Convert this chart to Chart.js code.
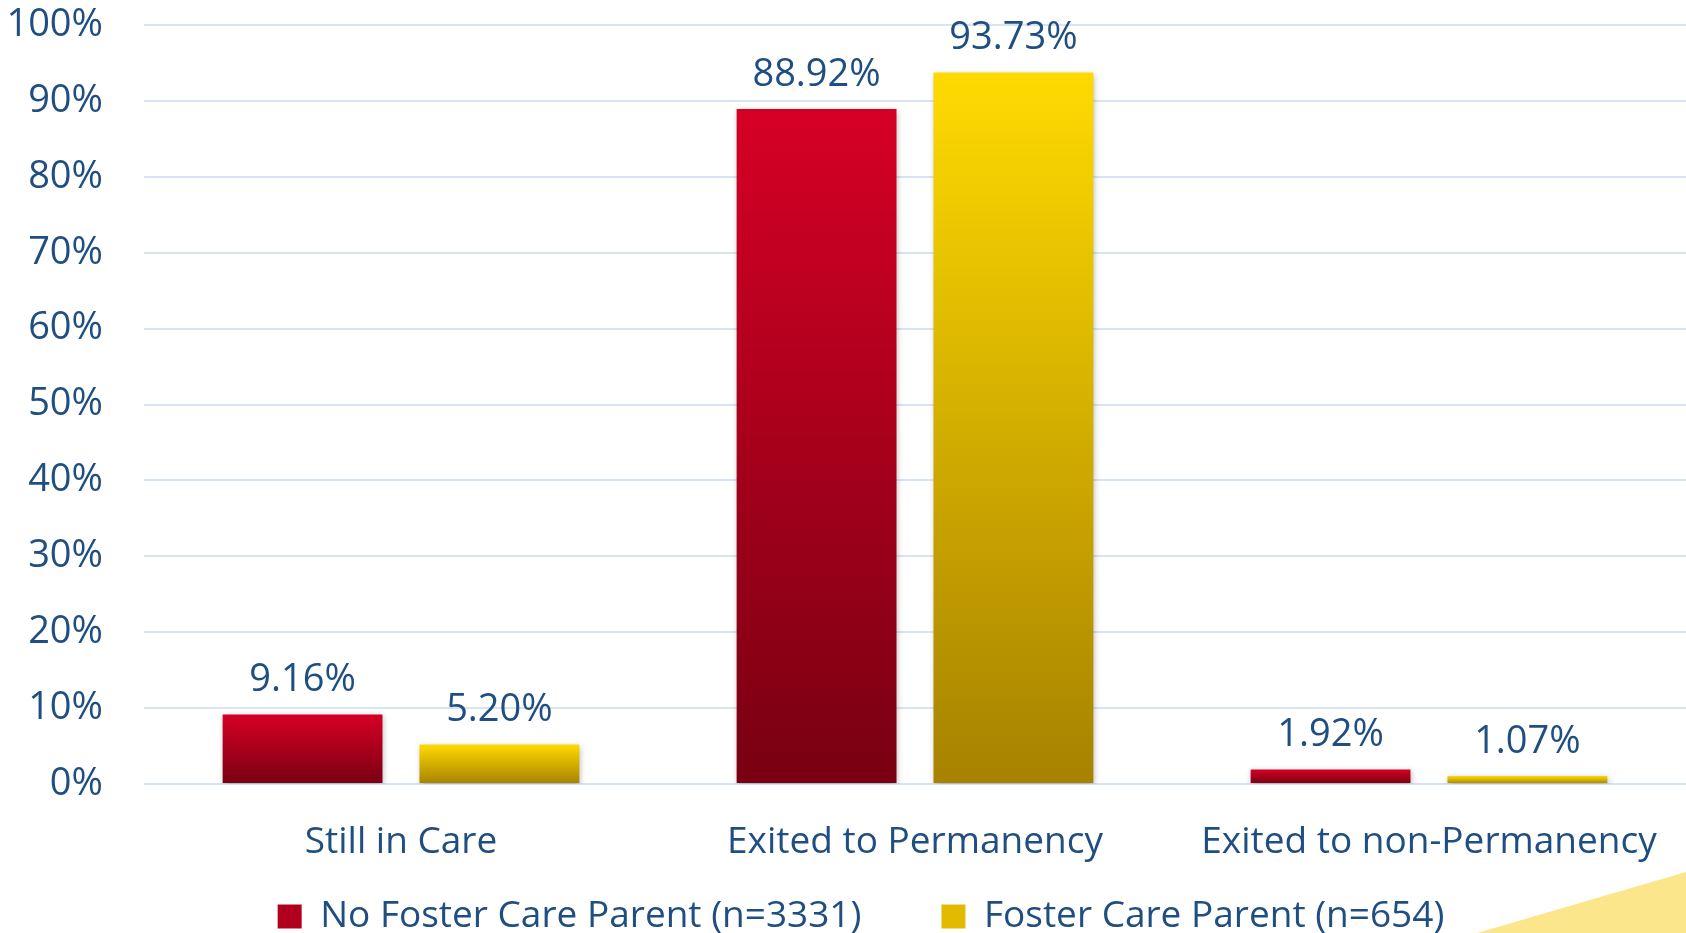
<!DOCTYPE html>
<html>
<head>
<meta charset="utf-8">
<script src="https://cdn.jsdelivr.net/npm/chart.js@4/dist/chart.umd.min.js"></script>
<style>
  html, body { margin:0; padding:0; background:#fff; overflow:hidden; }
  #wrap { position:relative; width:1686px; height:933px; }
  #deco { position:absolute; left:0; top:0; width:1686px; height:933px;
          background:#fce68c; clip-path:polygon(1477px 933px, 1686px 872px, 1686px 933px); }
  canvas { position:absolute; left:0; top:0; }
</style>
</head>
<body>
<div id="wrap">
  <div id="deco"></div>
  <canvas id="grafico" width="1686" height="933"></canvas>
</div>
<script>
const categorias = ['Still in Care', 'Exited to Permanency', 'Exited to non-Permanency'];
const noFoster   = [9.16, 88.92, 1.92];
const foster     = [5.20, 93.73, 1.07];
const serieNombres = ['No Foster Care Parent (n=3331)', 'Foster Care Parent (n=654)'];
const ticksY = [0, 10, 20, 30, 40, 50, 60, 70, 80, 90, 100];

const azul = '#1f4e82';
const fuente = "'Open Sans', sans-serif";

// gradiente vertical por barra (arriba brillante, abajo oscuro)
function gradBarra(arriba, abajo, plano){
  return function(ctx){
    const chart = ctx.chart;
    if(!chart.chartArea || !chart.scales.y || ctx.type !== 'data') return plano;
    const y = chart.scales.y;
    const top = y.getPixelForValue(ctx.raw);
    const base = y.getPixelForValue(0);
    if(!isFinite(top) || !isFinite(base) || base - top < 1) return plano;
    const g = chart.ctx.createLinearGradient(0, top, 0, base);
    g.addColorStop(0, arriba);
    g.addColorStop(1, abajo);
    return g;
  };
}

// etiquetas encima de las barras
const pluginEtiquetas = {
  id: 'etiquetas',
  afterDatasetsDraw(chart){
    const ctx = chart.ctx;
    ctx.save();
    ctx.font = '38px ' + fuente;
    ctx.fillStyle = azul;
    ctx.textAlign = 'center';
    ctx.textBaseline = 'middle';
    chart.data.datasets.forEach(function(ds, i){
      chart.getDatasetMeta(i).data.forEach(function(bar, j){
        ctx.fillText(ds.data[j].toFixed(2) + '%', bar.x, bar.y - 34);
      });
    });
    ctx.restore();
  }
};

// sombra suave de las barras
const pluginSombra = {
  id: 'sombra',
  beforeDatasetsDraw(chart){
    const ctx = chart.ctx;
    ctx.save();
    ctx.shadowColor = 'rgba(0,0,0,0.28)';
    ctx.shadowBlur = 6;
    ctx.shadowOffsetX = 1;
    ctx.shadowOffsetY = 2;
  },
  afterDatasetsDraw(chart){
    chart.ctx.restore();
  }
};

// la leyenda del original va un poco a la derecha del centro
const pluginLeyenda = {
  id: 'leyendaDesplazada',
  afterLayout(chart){
    if(chart.legend){
      chart.legend.left += 18;
      chart.legend.right += 18;
    }
  }
};

const ctxCanvas = document.getElementById('grafico').getContext('2d');
new Chart(ctxCanvas, {
  type: 'bar',
  data: {
    labels: categorias,
    datasets: [
      {
        label: serieNombres[0],
        data: noFoster,
        backgroundColor: gradBarra('#d60026', '#780011', '#b0001e'),
        categoryPercentage: 0.766,
        barPercentage: 0.812
      },
      {
        label: serieNombres[1],
        data: foster,
        backgroundColor: gradBarra('#ffda00', '#a68200', '#e2bb00'),
        categoryPercentage: 0.766,
        barPercentage: 0.812
      }
    ]
  },
  options: {
    responsive: false,
    animation: false,
    layout: { padding: { left: 0, right: 0, top: 25, bottom: -12 } },
    plugins: {
      legend: {
        position: 'bottom',
        labels: {
          font: { family: fuente, size: 37 },
          color: azul,
          boxWidth: 24,
          boxHeight: 24,
          padding: 6,
          generateLabels: function(chart){
            const colores = ['#b0001e', '#e2bb00'];
            return chart.data.datasets.map(function(ds, i){
              // espacio extra tras el primer elemento, como en el original
              const txt = i === 0 ? ds.label + '\u2003\u2003' : ds.label;
              return { text: txt, fillStyle: colores[i], strokeStyle: colores[i],
                       lineWidth: 0, datasetIndex: i, fontColor: azul };
            });
          }
        }
      },
      tooltip: { enabled: false }
    },
    scales: {
      x: {
        grid: { display: false },
        border: { display: false },
        ticks: { font: { family: fuente, size: 37 }, color: azul, padding: 28 },
        afterFit: function(axis){ axis.height = 108; axis.paddingLeft = 0; axis.paddingRight = 0; }
      },
      y: {
        min: 0,
        max: 100,
        afterBuildTicks: function(axis){ axis.ticks = ticksY.map(v => ({ value: v })); },
        afterFit: function(axis){ axis.width = 144; axis.paddingTop = 0; axis.paddingBottom = 0; },
        grid: { color: '#d9e4f2', lineWidth: 2, drawTicks: false },
        border: { display: false },
        ticks: {
          font: { family: fuente, size: 38 },
          color: azul,
          padding: 41,
          callback: v => v + '%'
        }
      }
    }
  },
  plugins: [pluginSombra, pluginEtiquetas, pluginLeyenda]
});
</script>
</body>
</html>
